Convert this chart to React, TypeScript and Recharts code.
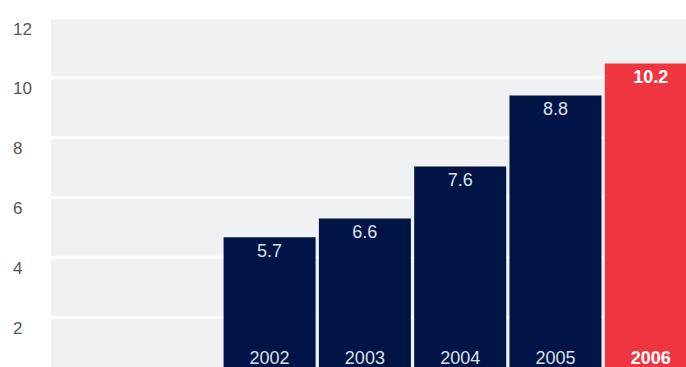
import React from "react";
import { BarChart, Bar, XAxis, YAxis, CartesianGrid, Cell, LabelList } from "recharts";

const years = [2002, 2003, 2004, 2005, 2006];
// bar heights as read against the y axis
const barHeights = [4.67, 5.3, 7.04, 9.41, 10.48];
// printed value labels
const valueLabels = ["5.7", "6.6", "7.6", "8.8", "10.2"];
const yTicks = [0, 2, 4, 6, 8, 10, 12];

const NAVY = "#001446";
const RED = "#ef3640";
const FONT = "'Liberation Sans', Arial, sans-serif";

const data = years.map((y, i) => ({ year: y, value: barHeights[i], label: valueLabels[i] }));

function YTick({ y, payload }: any) {
  if (payload.value === 0) return null;
  return (
    <text x={13} y={y + 11} fill="#555" fontSize={17} fontFamily={FONT} dominantBaseline="central">
      {payload.value}
    </text>
  );
}

function BarText(props: any) {
  const { x, y, width, height, index } = props;
  const last = index === years.length - 1;
  const fill = last ? "#ffffff" : "#dde1ea";
  const weight = last ? "bold" : "normal";
  const cx = x + width / 2;
  return (
    <g fontFamily={FONT} fontSize={18} fontWeight={weight} fill={fill} textAnchor="middle">
      <text x={cx} y={y + 14} dominantBaseline="central">{valueLabels[index]}</text>
      <text x={cx} y={y + height - 19} dominantBaseline="central">{years[index]}</text>
    </g>
  );
}

export default function App() {
  return (
    <div style={{ position: "absolute", left: 0, top: 0, background: "#fff" }}>
      <BarChart width={700} height={377} data={data} margin={{ top: 18, right: 0, bottom: 0, left: 0 }}>
        <CartesianGrid vertical={false} stroke="#ffffff" strokeWidth={3} fill="#f0f1f3" />
        <XAxis
          type="number"
          dataKey="year"
          domain={[1999.71, 2006.52]}
          allowDataOverflow
          hide
        />
        <YAxis
          type="number"
          domain={[0, 12]}
          ticks={yTicks}
          width={51}
          axisLine={false}
          tickLine={false}
          tick={<YTick />}
          interval={0}
        />
        <Bar dataKey="value" barSize={92} isAnimationActive={false}>
          {data.map((d, i) => (
            <Cell key={`c-${i}`} fill={i === data.length - 1 ? RED : NAVY} />
          ))}
          <LabelList dataKey="label" content={<BarText />} />
        </Bar>
      </BarChart>
    </div>
  );
}
